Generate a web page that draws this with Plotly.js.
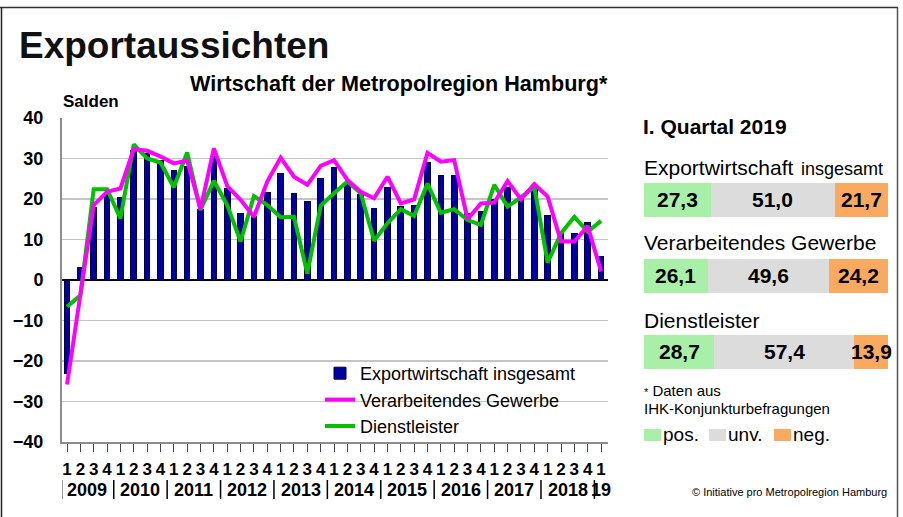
<!DOCTYPE html>
<html>
<head>
<meta charset="utf-8">
<script src="https://cdn.plot.ly/plotly-3.0.1.min.js"></script>
<style>html,body{margin:0;padding:0;background:#fff;}#chart{width:903px;height:517px;}</style>
</head>
<body>
<div id="chart"></div>
<script>
// ---------- data ----------
const quarterLabels = ['1','2','3','4','1','2','3','4','1','2','3','4','1','2','3','4','1','2','3','4',
  '1','2','3','4','1','2','3','4','1','2','3','4','1','2','3','4','1','2','3','4','1'];
const yearLabels = ['2009','2010','2011','2012','2013','2014','2015','2016','2017','2018','19'];
const exportGesamt = [-23, 3, 18, 21, 20.4, 32, 31.3, 29.6, 27, 28, 17.3, 30.5, 22.5, 16.5, 15.6, 21.6,
  26.3, 21.4, 19.3, 25.1, 27.8, 23.5, 21, 17.7, 22.9, 18.1, 18.5, 29, 25.7, 25.7, 16.5, 16.9,
  19.9, 22.9, 20.2, 22.6, 16, 11.5, 11.4, 14.2, 5.8];
const verarbeitend = [-25.8, -4, 18.5, 21.8, 22.6, 32.3, 31.9, 30.5, 28.8, 29.5, 17.5, 32.5, 23.2, 19.8, 15.6, 24.3,
  30.2, 25.5, 23.5, 28.2, 29.6, 24.7, 21.8, 20.2, 25.5, 18.9, 19.9, 31.4, 29.2, 29.6, 15, 18.9,
  19.1, 24.4, 19.9, 23.7, 20.6, 9.5, 9.5, 13.3, 2.1];
const dienstleister = [-6.6, -3.8, 22.4, 22.4, 15.2, 33.5, 30, 29, 22.9, 31.5, 17.3, 24.5, 18.5, 9.5, 20.7, 18.5,
  15.5, 15.6, 1.6, 18.3, 21.4, 24.3, 21.4, 9.7, 14, 17.5, 15.8, 23.8, 16.6, 17.5, 14.8, 13.6,
  23.5, 18.1, 20.4, 23, 4.3, 11.5, 15.6, 11.9, 14.6];
const seriesNames = ['Exportwirtschaft insgesamt', 'Verarbeitendes Gewerbe', 'Dienstleister'];

// right panel: I. Quartal 2019
const panelGroups = ['Exportwirtschaft', 'Verarbeitendes Gewerbe', 'Dienstleister'];
const posValues = [27.3, 26.1, 28.7];
const unvValues = [51.0, 49.6, 57.4];
const negValues = [21.7, 24.2, 13.9];
const shareLabels = ['pos.', 'unv.', 'neg.'];

// ---------- helpers ----------
const W = 903, H = 517;
const px = x => x / W;
const py = y => 1 - y / H;
const FONT = 'Liberation Sans, Arial, sans-serif';
const idx = quarterLabels.map((_, i) => i);

const traces = [
  {type: 'bar', x: idx, y: exportGesamt, name: seriesNames[0], width: 0.42,
   marker: {color: '#0000a0', line: {color: '#00003a', width: 1}},
   legendgroup: 'a', legendrank: 1, xaxis: 'x', yaxis: 'y'},
  {type: 'scatter', mode: 'lines', x: idx, y: dienstleister, name: seriesNames[2],
   line: {color: '#00c000', width: 4}, legendgroup: 'c', legendrank: 3, xaxis: 'x', yaxis: 'y'},
  {type: 'scatter', mode: 'lines', x: idx, y: verarbeitend, name: seriesNames[1],
   line: {color: '#ff00ff', width: 4}, legendgroup: 'b', legendrank: 2, xaxis: 'x', yaxis: 'y'}
];

const rows = panelGroups.map((_, i) => i);
const shareColors = ['#a8f0a8', '#dcdcdc', '#f9aa60'];
[posValues, unvValues, negValues].forEach((vals, k) => {
  traces.push({type: 'bar', orientation: 'h', x: vals, y: rows, width: 0.447,
    marker: {color: shareColors[k], line: {width: 0}}, showlegend: false,
    xaxis: 'x2', yaxis: 'y2', name: shareLabels[k]});
});

const annotations = [];
const shapes = [];
const fmt = v => v.toFixed(1).replace('.', ',');

// values inside panel bars
rows.forEach(r => {
  const segs = [posValues[r], unvValues[r], negValues[r]];
  let cum = 0;
  segs.forEach(v => {
    annotations.push({xref: 'x2', yref: 'y2', x: cum + v / 2, y: r, text: fmt(v), showarrow: false,
      xanchor: 'center', yanchor: 'middle', font: {family: FONT, size: 21, weight: 'bold', color: '#000'}});
    cum += v;
  });
});

// panel group headers
const headerY = [167, 243, 320];
panelGroups.forEach((g, i) => {
  annotations.push({xref: 'paper', yref: 'paper', x: px(642), y: py(headerY[i]), text: g, showarrow: false,
    xanchor: 'left', yanchor: 'middle', font: {family: FONT, size: 21, color: '#000'}});
});
annotations.push({xref: 'paper', yref: 'paper', x: px(799), y: py(169), text: 'insgesamt', showarrow: false,
  xanchor: 'left', yanchor: 'middle', font: {family: FONT, size: 18, color: '#000'}});
annotations.push({xref: 'paper', yref: 'paper', x: px(641), y: py(126), text: 'I. Quartal 2019', showarrow: false,
  xanchor: 'left', yanchor: 'middle', font: {family: FONT, size: 21, weight: 'bold', color: '#000'}});

// footnote
annotations.push({xref: 'paper', yref: 'paper', x: px(642), y: py(390), text: '<span style="font-size:11px">*</span> Daten aus', showarrow: false,
  xanchor: 'left', yanchor: 'middle', font: {family: FONT, size: 15, color: '#000'}});
annotations.push({xref: 'paper', yref: 'paper', x: px(642), y: py(408), text: 'IHK-Konjunkturbefragungen', showarrow: false,
  xanchor: 'left', yanchor: 'middle', font: {family: FONT, size: 15, color: '#000'}});

// pos/unv/neg legend
const sqX = [644, 709, 774];
shareLabels.forEach((l, k) => {
  shapes.push({type: 'rect', xref: 'paper', yref: 'paper', x0: px(sqX[k]), x1: px(sqX[k] + 17),
    y0: py(441), y1: py(429), fillcolor: shareColors[k], line: {width: 0}});
  annotations.push({xref: 'paper', yref: 'paper', x: px(sqX[k] + 17), y: py(434), text: l, showarrow: false,
    xanchor: 'left', yanchor: 'middle', font: {family: FONT, size: 19, color: '#000'}});
});

// title parts
annotations.push({xref: 'paper', yref: 'paper', x: px(398.5), y: py(84), text: 'Wirtschaft der Metropolregion Hamburg*', showarrow: false,
  xanchor: 'center', yanchor: 'middle', font: {family: FONT, size: 21.6, weight: 'bold', color: '#000'}});
annotations.push({xref: 'paper', yref: 'paper', x: px(61), y: py(102), text: 'Salden', showarrow: false,
  xanchor: 'left', yanchor: 'middle', font: {family: FONT, size: 17, weight: 'bold', color: '#000'}});
annotations.push({xref: 'paper', yref: 'paper', x: px(690), y: py(492), text: '© Initiative pro Metropolregion Hamburg', showarrow: false,
  xanchor: 'left', yanchor: 'middle', font: {family: FONT, size: 11, color: '#000'}});

// year labels and separators
yearLabels.forEach((y, k) => {
  const first = 4 * k;
  const last = Math.min(first + 3, quarterLabels.length - 1);
  annotations.push({xref: 'x', yref: 'paper', x: (first + last) / 2, y: py(490), text: y, showarrow: false,
    xanchor: 'center', yanchor: 'middle', font: {family: FONT, size: 18, weight: 'bold', color: '#000'}});
  shapes.push({type: 'line', xref: 'x', yref: 'paper', x0: Math.max(first - 0.5, -0.4), x1: Math.max(first - 0.5, -0.4),
    y0: py(480), y1: py(499), line: {color: '#000', width: 1.5}});
});

// frame
shapes.push({type: 'line', xref: 'paper', yref: 'paper', x0: px(0), x1: px(898), y0: py(7.5), y1: py(7.5), line: {color: '#333', width: 1.5}});
shapes.push({type: 'line', xref: 'paper', yref: 'paper', x0: px(1.5), x1: px(1.5), y0: py(7.5), y1: py(517), line: {color: '#222', width: 1.5}});
shapes.push({type: 'line', xref: 'paper', yref: 'paper', x0: px(897.5), x1: px(897.5), y0: py(7.5), y1: py(517), line: {color: '#555', width: 1.5}});

const layout = {
  width: W, height: H, autosize: false,
  margin: {l: 0, r: 0, t: 0, b: 0},
  paper_bgcolor: '#fff', plot_bgcolor: 'rgba(0,0,0,0)',
  font: {family: FONT, color: '#000'},
  hovermode: false,
  barmode: 'stack',
  title: {text: 'Exportaussichten', x: px(19), xanchor: 'left', xref: 'paper', y: py(45), yref: 'paper', yanchor: 'middle',
    font: {family: FONT, size: 37, weight: 'bold', color: '#111'}},
  xaxis: {domain: [px(62), px(608)], range: [-0.375, 40.52], tickmode: 'array', tickvals: idx, ticktext: quarterLabels,
    ticks: 'outside', ticklen: 8, tickcolor: '#444', tickwidth: 1, showline: true, linecolor: '#8c8c8c', linewidth: 2,
    showgrid: false, zeroline: false, ticklabelstandoff: 3, tickangle: 0,
    tickfont: {family: FONT, size: 17, weight: 'bold', color: '#000'}, anchor: 'y', fixedrange: true},
  yaxis: {domain: [py(442), py(118)], range: [-40, 40], tickmode: 'linear', tick0: 0, dtick: 10,
    showgrid: true, gridcolor: '#c4c4c4', gridwidth: 1.5, zeroline: true, zerolinecolor: '#000', zerolinewidth: 1.3,
    showline: true, linecolor: '#8c8c8c', linewidth: 2, ticks: '', ticklabelstandoff: 13,
    tickfont: {family: FONT, size: 18, weight: 'bold', color: '#000'}, anchor: 'x', fixedrange: true},
  xaxis2: {domain: [px(644), px(888)], range: [0, 100], visible: false, anchor: 'y2', fixedrange: true},
  yaxis2: {domain: [py(389.5), py(162)], range: [2.5, -0.5], visible: false, anchor: 'x2', fixedrange: true},
  showlegend: true,
  legend: {x: px(320), y: py(355), xanchor: 'left', yanchor: 'top', xref: 'paper', yref: 'paper',
    bgcolor: 'rgba(0,0,0,0)', borderwidth: 0, traceorder: 'grouped', tracegroupgap: 0,
    font: {family: FONT, size: 18, color: '#000'}, itemclick: false, itemdoubleclick: false},
  annotations: annotations,
  shapes: shapes
};

Plotly.newPlot('chart', traces, layout, {displayModeBar: false, staticPlot: true});
</script>
</body>
</html>
